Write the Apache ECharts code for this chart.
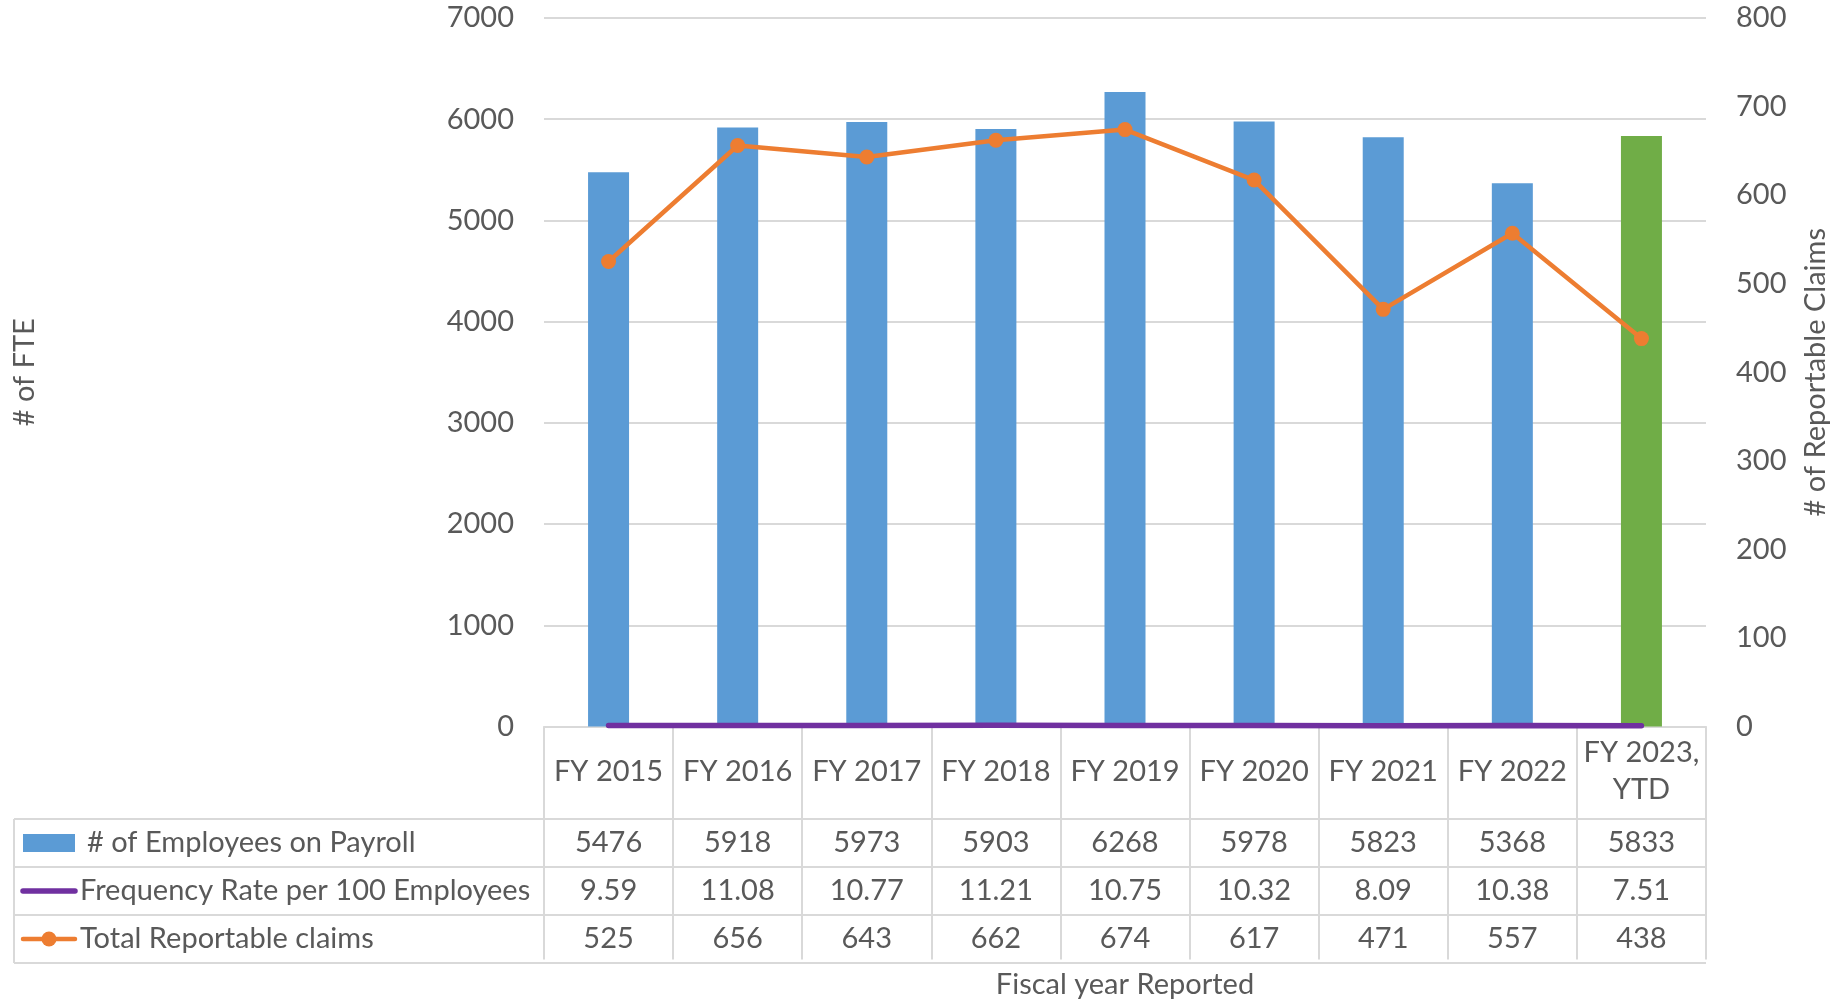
<!DOCTYPE html>
<html>
<head>
<meta charset="utf-8">
<script src="https://cdn.jsdelivr.net/npm/echarts@6/dist/echarts.min.js"></script>
<style>
  html, body { margin: 0; padding: 0; background: #fff; }
  #main { width: 1843px; height: 1004px; }
</style>
</head>
<body>
<div id="main"></div>
<script>
var years = ['FY 2015', 'FY 2016', 'FY 2017', 'FY 2018', 'FY 2019', 'FY 2020', 'FY 2021', 'FY 2022', 'FY 2023,\nYTD'];
var employees = [5476, 5918, 5973, 5903, 6268, 5978, 5823, 5368, 5833];
var freqRate = [9.59, 11.08, 10.77, 11.21, 10.75, 10.32, 8.09, 10.38, 7.51];
var claims = [525, 656, 643, 662, 674, 617, 471, 557, 438];
var rowNames = ['# of Employees on Payroll', 'Frequency Rate per 100 Employees', 'Total Reportable claims'];

var font = 'Lato';
var fs = 29;
var textColor = '#595959';
var lineColor = '#d9d9d9';

var chartDom = document.getElementById('main');
var myChart = echarts.init(chartDom);
var option;

function plain(v) { return String(v); }

option = {
  animation: false,
  textStyle: { fontFamily: font },
  grid: { left: 544, right: 137, top: 18, bottom: 273 },
  xAxis: {
    type: 'category',
    data: years,
    name: 'Fiscal year Reported',
    nameLocation: 'middle',
    nameGap: 258,
    nameTextStyle: { fontSize: fs, color: textColor, verticalAlign: 'middle' },
    axisLine: { lineStyle: { color: lineColor, width: 2 } },
    axisTick: { show: true, length: 233, lineStyle: { color: lineColor, width: 2 } },
    axisLabel: { fontSize: fs, color: textColor, margin: 45, verticalAlign: 'middle', lineHeight: 37, interval: 0 }
  },
  yAxis: [
    {
      type: 'value',
      min: 0, max: 7000, interval: 1000,
      name: '# of FTE',
      nameLocation: 'middle',
      nameRotate: 90,
      nameGap: 505,
      nameTextStyle: { fontSize: fs, color: textColor },
      axisLabel: { fontSize: fs, color: textColor, margin: 30, formatter: plain },
      splitLine: { lineStyle: { color: lineColor, width: 2 } }
    },
    {
      type: 'value',
      min: 0, max: 800, interval: 100,
      name: '# of Reportable Claims',
      nameLocation: 'middle',
      nameRotate: 90,
      nameGap: 95,
      nameTextStyle: { fontSize: fs, color: textColor },
      axisLabel: { fontSize: fs, color: textColor, margin: 30, formatter: plain },
      splitLine: { show: false }
    }
  ],
  series: [
    {
      name: rowNames[0],
      type: 'bar',
      barWidth: 41,
      itemStyle: { color: '#5b9bd5' },
      data: employees.map(function (v, i) {
        return i === employees.length - 1 ? { value: v, itemStyle: { color: '#70ad47' } } : v;
      })
    },
    {
      name: rowNames[1],
      type: 'line',
      yAxisIndex: 0,
      symbol: 'none',
      lineStyle: { color: '#7030a0', width: 5.5, cap: 'round' },
      data: freqRate
    },
    {
      name: rowNames[2],
      type: 'line',
      yAxisIndex: 1,
      symbol: 'circle',
      symbolSize: 15,
      itemStyle: { color: '#ed7d31' },
      lineStyle: { color: '#ed7d31', width: 4.5 },
      data: claims
    }
  ]
};

option && myChart.setOption(option);

// data table under the chart
var tableLeft = 14, plotRight = 1706;
var headerBottom = 819, rowH = 48;
var rowValues = [
  employees.map(String),
  freqRate.map(function (v) { return v.toFixed(2); }),
  claims.map(String)
];
var g = [];
for (var r = 0; r <= 3; r++) {
  var y = headerBottom + r * rowH;
  g.push({ type: 'line', shape: { x1: tableLeft, y1: y, x2: plotRight, y2: y }, style: { stroke: lineColor, lineWidth: 2 } });
}
g.push({ type: 'line', shape: { x1: tableLeft, y1: headerBottom, x2: tableLeft, y2: headerBottom + 3 * rowH }, style: { stroke: lineColor, lineWidth: 2 } });
rowValues.forEach(function (vals, r) {
  var cy = headerBottom + r * rowH + rowH / 2;
  vals.forEach(function (v, i) {
    var cx = myChart.convertToPixel({ xAxisIndex: 0 }, i);
    g.push({ type: 'text', x: cx, y: cy, style: { text: v, fontSize: fs, fontFamily: font, fill: textColor, align: 'center', verticalAlign: 'middle' } });
  });
  g.push({ type: 'text', x: r === 0 ? 87 : 80, y: cy, style: { text: rowNames[r], fontSize: fs, fontFamily: font, fill: textColor, align: 'left', verticalAlign: 'middle' } });
});
// legend keys
var c0 = headerBottom + rowH / 2, c1 = c0 + rowH, c2 = c1 + rowH;
g.push({ type: 'rect', shape: { x: 23, y: c0 - 9, width: 52, height: 18 }, style: { fill: '#5b9bd5' } });
g.push({ type: 'line', shape: { x1: 23, y1: c1, x2: 75, y2: c1 }, style: { stroke: '#7030a0', lineWidth: 5.5, lineCap: 'round' } });
g.push({ type: 'line', shape: { x1: 23, y1: c2, x2: 75, y2: c2 }, style: { stroke: '#ed7d31', lineWidth: 4.5, lineCap: 'round' } });
g.push({ type: 'circle', shape: { cx: 49, cy: c2, r: 7.5 }, style: { fill: '#ed7d31' } });

myChart.setOption({ graphic: g });
</script>
</body>
</html>
